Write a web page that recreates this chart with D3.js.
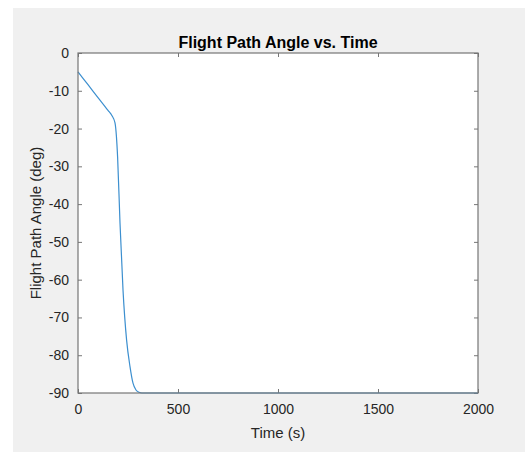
<!DOCTYPE html>
<html>
<head>
<meta charset="utf-8">
<script src="https://cdn.jsdelivr.net/npm/d3@7"></script>
<style>
  html, body { margin: 0; padding: 0; background: #fff; }
  svg { display: block; font-family: Arial, "Liberation Sans", Helvetica, sans-serif; }
</style>
</head>
<body>
<svg id="chart" width="525" height="453"></svg>
<script>
// Flight path angle history (time in s, angle in deg)
const timeS = [0, 50, 100, 150, 170, 185, 192, 198, 210, 225, 243, 260, 275, 290, 305, 320, 400, 1000, 1500, 2000];
const angleDeg = [-5, -8.4, -11.8, -15.2, -16.6, -18.5, -22, -27.5, -45, -62.7, -76, -83, -87.4, -89.2, -89.8, -90, -90, -90, -90, -90];
const xTicks = [0, 500, 1000, 1500, 2000];
const yTicks = [0, -10, -20, -30, -40, -50, -60, -70, -80, -90];

const titleText = "Flight Path Angle vs. Time";
const xLabel = "Time (s)";
const yLabel = "Flight Path Angle (deg)";

const svg = d3.select("#chart");
const W = 525, H = 453;
const plot = { left: 78, right: 478, top: 53, bottom: 393 };

// figure background
svg.append("rect").attr("x", 13).attr("y", 8).attr("width", W - 13).attr("height", 444)
  .attr("fill", "#f0f0f0");

const x = d3.scaleLinear().domain([0, 2000]).range([plot.left, plot.right]);
const y = d3.scaleLinear().domain([-90, 0]).range([plot.bottom, plot.top]);

// axes area
svg.append("rect")
  .attr("x", plot.left).attr("y", plot.top)
  .attr("width", plot.right - plot.left).attr("height", plot.bottom - plot.top)
  .attr("fill", "#ffffff");

const axisColor = "#767676";
const textColor = "#262626";
const plain = d => String(d);   // "-10", "1000": ASCII minus, no grouping

function styleAxis(g) {
  g.select(".domain").remove();
  g.selectAll(".tick line").attr("stroke", axisColor);
  g.selectAll(".tick text").attr("fill", textColor).attr("font-size", 14);
}

// inward ticks on all four sides
svg.append("g").attr("transform", `translate(0,${plot.bottom})`)
  .call(d3.axisBottom(x).tickValues(xTicks).tickFormat(plain).tickSizeInner(-4).tickSizeOuter(0).tickPadding(11))
  .call(styleAxis);
svg.append("g").attr("transform", `translate(0,${plot.top})`)
  .call(d3.axisTop(x).tickValues(xTicks).tickSizeInner(-4).tickSizeOuter(0).tickFormat(""))
  .call(styleAxis);
svg.append("g").attr("transform", `translate(${plot.left},0)`)
  .call(d3.axisLeft(y).tickValues(yTicks).tickFormat(plain).tickSizeInner(-4).tickSizeOuter(0).tickPadding(9))
  .call(styleAxis);
svg.append("g").attr("transform", `translate(${plot.right},0)`)
  .call(d3.axisRight(y).tickValues(yTicks).tickSizeInner(-4).tickSizeOuter(0).tickFormat(""))
  .call(styleAxis);

// data line
const line = d3.line()
  .x((d, i) => x(timeS[i]))
  .y(d => y(d))
  .curve(d3.curveMonotoneX);

svg.append("path")
  .datum(angleDeg)
  .attr("d", line)
  .attr("fill", "none")
  .attr("stroke", "#3c8fcf")
  .attr("stroke-width", 1.2);

// axes box
svg.append("rect")
  .attr("x", plot.left).attr("y", plot.top)
  .attr("width", plot.right - plot.left).attr("height", plot.bottom - plot.top)
  .attr("fill", "none").attr("stroke", axisColor).attr("stroke-width", 1.2);

// title and labels
svg.append("text")
  .attr("x", (plot.left + plot.right) / 2).attr("y", 48)
  .attr("text-anchor", "middle").attr("font-size", 16).attr("font-weight", "bold")
  .attr("fill", "#000").text(titleText);

svg.append("text")
  .attr("x", (plot.left + plot.right) / 2).attr("y", 438)
  .attr("text-anchor", "middle").attr("font-size", 15)
  .attr("fill", textColor).text(xLabel);

svg.append("text")
  .attr("transform", `translate(41,${(plot.top + plot.bottom) / 2}) rotate(-90)`)
  .attr("text-anchor", "middle").attr("font-size", 15)
  .attr("fill", textColor).text(yLabel);
</script>
</body>
</html>
